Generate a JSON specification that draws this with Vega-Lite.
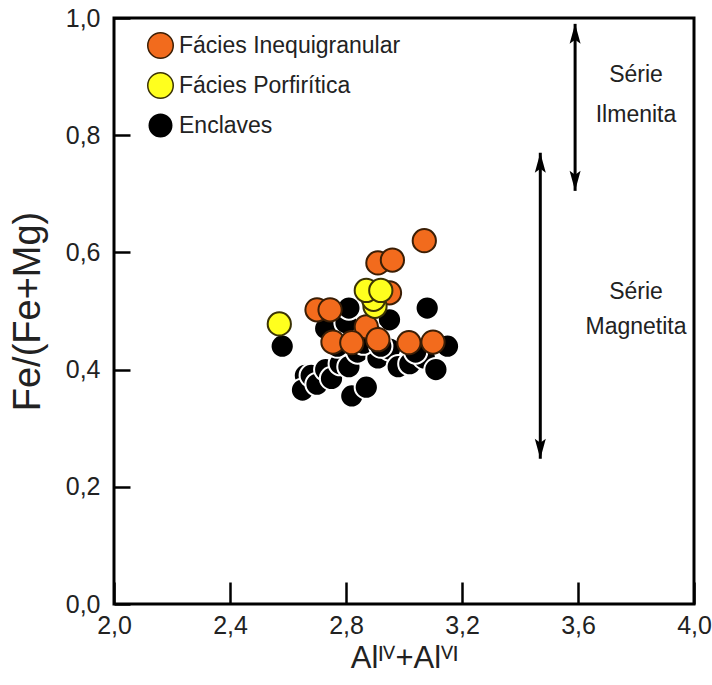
{
  "$schema": "https://vega.github.io/schema/vega-lite/v6.json",
  "width": 580,
  "height": 586,
  "autosize": "none",
  "padding": {"left": 114, "top": 18, "right": 18, "bottom": 81},
  "background": "white",
  "config": {
    "font": "Liberation Sans",
    "view": {"stroke": "black", "strokeWidth": 3},
    "axis": {
      "domain": false,
      "grid": false,
      "labelFlush": false,
      "labelOverlap": false,
      "tickColor": "black",
      "tickWidth": 2.5,
      "labelColor": "#222",
      "labelFont": "Liberation Sans",
      "titleFont": "Liberation Sans",
      "labelFontSize": 25,
      "titleFontWeight": "normal",
      "titleColor": "#222"
    }
  },
  "datasets": {
    "pts": [
      {"x": 2.58, "y": 0.44, "grupo": "Enclaves"},
      {"x": 2.66, "y": 0.39, "grupo": "Enclaves"},
      {"x": 2.65, "y": 0.365, "grupo": "Enclaves"},
      {"x": 2.68, "y": 0.39, "grupo": "Enclaves"},
      {"x": 2.70, "y": 0.375, "grupo": "Enclaves"},
      {"x": 2.73, "y": 0.40, "grupo": "Enclaves"},
      {"x": 2.75, "y": 0.385, "grupo": "Enclaves"},
      {"x": 2.78, "y": 0.41, "grupo": "Enclaves"},
      {"x": 2.73, "y": 0.47, "grupo": "Enclaves"},
      {"x": 2.81, "y": 0.405, "grupo": "Enclaves"},
      {"x": 2.82, "y": 0.355, "grupo": "Enclaves"},
      {"x": 2.87, "y": 0.37, "grupo": "Enclaves"},
      {"x": 2.84, "y": 0.43, "grupo": "Enclaves"},
      {"x": 2.80, "y": 0.48, "grupo": "Enclaves"},
      {"x": 2.81, "y": 0.505, "grupo": "Enclaves"},
      {"x": 2.91, "y": 0.42, "grupo": "Enclaves"},
      {"x": 2.95, "y": 0.435, "grupo": "Enclaves"},
      {"x": 2.98, "y": 0.405, "grupo": "Enclaves"},
      {"x": 3.02, "y": 0.41, "grupo": "Enclaves"},
      {"x": 3.07, "y": 0.42, "grupo": "Enclaves"},
      {"x": 3.11, "y": 0.40, "grupo": "Enclaves"},
      {"x": 3.15, "y": 0.44, "grupo": "Enclaves"},
      {"x": 3.08, "y": 0.505, "grupo": "Enclaves"},
      {"x": 2.95, "y": 0.485, "grupo": "Enclaves"},
      {"x": 2.89, "y": 0.46, "grupo": "Enclaves"},
      {"x": 2.86, "y": 0.445, "grupo": "Enclaves"},
      {"x": 2.92, "y": 0.44, "grupo": "Enclaves"},
      {"x": 3.04, "y": 0.43, "grupo": "Enclaves"},
      {"x": 2.77, "y": 0.44, "grupo": "Enclaves"},
      {"x": 3.07, "y": 0.62, "grupo": "Fácies Inequigranular"},
      {"x": 2.91, "y": 0.582, "grupo": "Fácies Inequigranular"},
      {"x": 2.96, "y": 0.587, "grupo": "Fácies Inequigranular"},
      {"x": 2.95, "y": 0.531, "grupo": "Fácies Inequigranular"},
      {"x": 2.70, "y": 0.502, "grupo": "Fácies Inequigranular"},
      {"x": 2.745, "y": 0.502, "grupo": "Fácies Inequigranular"},
      {"x": 2.87, "y": 0.473, "grupo": "Fácies Inequigranular"},
      {"x": 2.755, "y": 0.447, "grupo": "Fácies Inequigranular"},
      {"x": 2.82, "y": 0.446, "grupo": "Fácies Inequigranular"},
      {"x": 2.91, "y": 0.451, "grupo": "Fácies Inequigranular"},
      {"x": 3.017, "y": 0.446, "grupo": "Fácies Inequigranular"},
      {"x": 3.10, "y": 0.447, "grupo": "Fácies Inequigranular"},
      {"x": 2.57, "y": 0.478, "grupo": "Fácies Porfirítica"},
      {"x": 2.90, "y": 0.508, "grupo": "Fácies Porfirítica"},
      {"x": 2.895, "y": 0.52, "grupo": "Fácies Porfirítica"},
      {"x": 2.87, "y": 0.535, "grupo": "Fácies Porfirítica"},
      {"x": 2.92, "y": 0.535, "grupo": "Fácies Porfirítica"}
    ],
    "arrows": [
      {"x": 3.59, "y": 0.705, "y2": 0.99},
      {"x": 3.47, "y": 0.248, "y2": 0.77}
    ],
    "heads": [
      {"x": 3.59, "y": 0.99, "dir": "up"},
      {"x": 3.59, "y": 0.705, "dir": "down"},
      {"x": 3.47, "y": 0.77, "dir": "up"},
      {"x": 3.47, "y": 0.248, "dir": "down"}
    ],
    "labels": [
      {"x": 3.80, "y": 0.903, "t": "Série"},
      {"x": 3.80, "y": 0.834, "t": "Ilmenita"},
      {"x": 3.80, "y": 0.532, "t": "Série"},
      {"x": 3.80, "y": 0.473, "t": "Magnetita"}
    ]
  },
  "layer": [
    {
      "data": {"name": "pts"},
      "mark": {"type": "point", "filled": true, "size": 540, "opacity": 1, "strokeWidth": 2},
      "encoding": {
        "x": {
          "field": "x", "type": "quantitative",
          "scale": {"domain": [2, 4], "nice": false, "zero": false},
          "axis": {
            "values": [2.0, 2.4, 2.8, 3.2, 3.6, 4.0],
            "tickSize": -22,
            "labelPadding": 31,
            "labelExpr": "replace(format(datum.value, '.1f'), '.', ',')",
            "title": "Alᴵⱽ+Alⱽᴵ",
            "titleFontSize": 31,
            "titlePadding": 5
          }
        },
        "y": {
          "field": "y", "type": "quantitative",
          "scale": {"domain": [0, 1], "nice": false},
          "axis": {
            "values": [0, 0.2, 0.4, 0.6, 0.8, 1.0],
            "tickSize": -16,
            "labelPadding": 30,
            "labelExpr": "replace(format(datum.value, '.1f'), '.', ',')",
            "title": "Fe/(Fe+Mg)",
            "titleFontSize": 38,
            "titlePadding": 18
          }
        },
        "fill": {
          "field": "grupo", "type": "nominal",
          "scale": {
            "domain": ["Fácies Inequigranular", "Fácies Porfirítica", "Enclaves"],
            "range": ["#F26B1D", "#FFFF1E", "#000000"]
          },
          "legend": {
            "title": null,
            "orient": "none",
            "legendX": 33,
            "legendY": 14,
            "symbolType": "circle",
            "symbolSize": 650,
            "symbolStrokeColor": "#222",
            "symbolStrokeWidth": 1.5,
            "labelFont": "Liberation Sans",
            "labelFontSize": 23,
            "labelColor": "#222",
            "labelLimit": 0,
            "rowPadding": 7,
            "labelOffset": 5
          }
        },
        "stroke": {
          "field": "grupo", "type": "nominal",
          "scale": {
            "domain": ["Fácies Inequigranular", "Fácies Porfirítica", "Enclaves"],
            "range": ["#3b1e05", "#3b3305", "#ffffff"]
          },
          "legend": null
        }
      }
    },
    {
      "data": {"name": "arrows"},
      "mark": {"type": "rule", "strokeWidth": 3, "color": "black"},
      "encoding": {
        "x": {"field": "x", "type": "quantitative"},
        "y": {"field": "y", "type": "quantitative"},
        "y2": {"field": "y2"}
      }
    },
    {
      "data": {"name": "heads"},
      "mark": {"type": "point", "filled": true, "size": 400, "color": "black", "opacity": 1},
      "encoding": {
        "x": {"field": "x", "type": "quantitative"},
        "y": {"field": "y", "type": "quantitative"},
        "shape": {
          "field": "dir", "type": "nominal",
          "scale": {"domain": ["up", "down"], "range": ["M0,0L-0.55,2L0,1.6L0.55,2Z", "M0,0L-0.55,-2L0,-1.6L0.55,-2Z"]},
          "legend": null
        }
      }
    },
    {
      "data": {"name": "labels"},
      "mark": {"type": "text", "fontSize": 23, "font": "Liberation Sans", "color": "#222", "align": "center", "baseline": "middle"},
      "encoding": {
        "x": {"field": "x", "type": "quantitative"},
        "y": {"field": "y", "type": "quantitative"},
        "text": {"field": "t"}
      }
    }
  ]
}
